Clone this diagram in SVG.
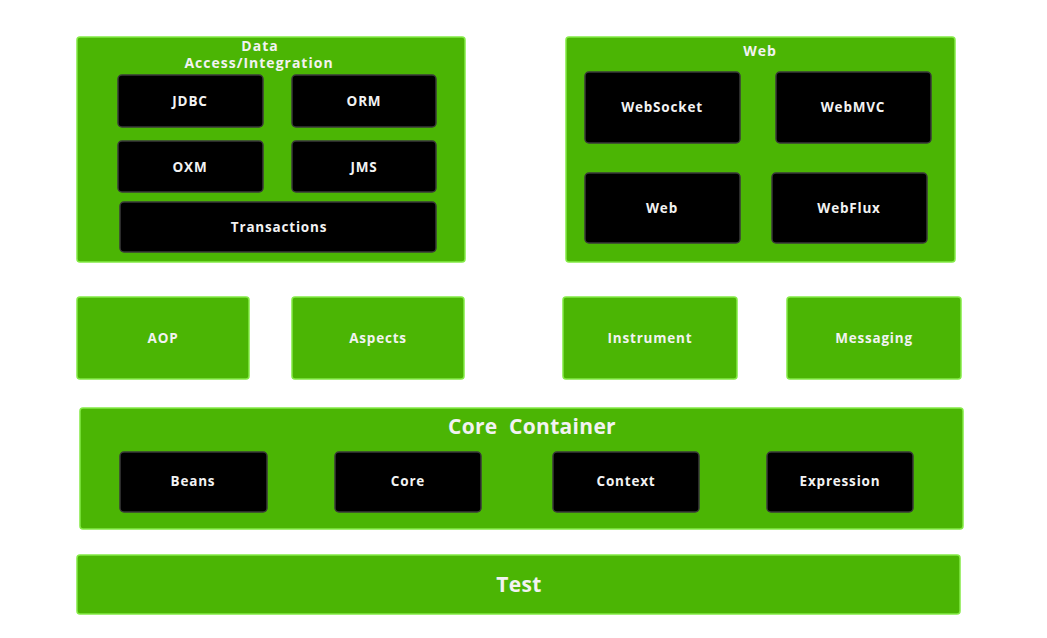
<svg xmlns="http://www.w3.org/2000/svg" width="1047" height="638" viewBox="0 0 1047 638">
<style>
.g{fill:#4bb504;stroke:#84ea45;stroke-width:1.5}
.b{fill:#000;stroke:#3a3a3a;stroke-width:1.5}
text{font-family:"Open Sans","Liberation Sans",sans-serif;font-weight:700;fill:#f2f2f2;text-anchor:middle;dominant-baseline:central}
.s{font-size:13.5px;letter-spacing:0.8px}
.t{font-size:14px;letter-spacing:1px}
.l{font-size:21px;letter-spacing:0.3px}
</style>
<rect width="1047" height="638" fill="#fff"/>
<g id="data">
<rect class="g" x="77" y="37" width="388" height="225" rx="3"/>
<text class="t" x="260" y="45">Data</text>
<text class="t" x="259" y="62">Access/Integration</text>
</g>
<g id="jdbc"><rect class="b" x="118" y="75" width="145" height="52" rx="4"/><text class="s" x="190" y="101">JDBC</text></g>
<g id="orm"><rect class="b" x="292" y="75" width="144" height="52" rx="4"/><text class="s" x="364" y="101">ORM</text></g>
<g id="oxm"><rect class="b" x="118" y="141" width="145" height="51" rx="4"/><text class="s" x="190" y="167">OXM</text></g>
<g id="jms"><rect class="b" x="292" y="141" width="144" height="51" rx="4"/><text class="s" x="364" y="167">JMS</text></g>
<g id="transactions"><rect class="b" x="120" y="202" width="316" height="50" rx="4"/><text class="s" x="279" y="227">Transactions</text></g>
<g id="web-group">
<rect class="g" x="566" y="37" width="389" height="225" rx="3"/>
<text class="t" x="760" y="50">Web</text>
</g>
<g id="websocket"><rect class="b" x="585" y="72" width="155" height="71" rx="4"/><text class="s" x="662" y="107">WebSocket</text></g>
<g id="webmvc"><rect class="b" x="776" y="72" width="155" height="71" rx="4"/><text class="s" x="853" y="107">WebMVC</text></g>
<g id="web"><rect class="b" x="585" y="173" width="155" height="70" rx="4"/><text class="s" x="662" y="208">Web</text></g>
<g id="webflux"><rect class="b" x="772" y="173" width="155" height="70" rx="4"/><text class="s" x="849" y="208">WebFlux</text></g>
<g id="aop"><rect class="g" x="77" y="297" width="172" height="82" rx="3"/><text class="s" x="163" y="338">AOP</text></g>
<g id="aspects"><rect class="g" x="292" y="297" width="172" height="82" rx="3"/><text class="s" x="378" y="338">Aspects</text></g>
<g id="instrument"><rect class="g" x="563" y="297" width="174" height="82" rx="3"/><text class="s" x="650" y="338">Instrument</text></g>
<g id="messaging"><rect class="g" x="787" y="297" width="174" height="82" rx="3"/><text class="s" x="874" y="338">Messaging</text></g>
<g id="core-container">
<rect class="g" x="80" y="408" width="883" height="121" rx="3"/>
<text class="l" x="532" y="426" xml:space="preserve">Core  Container</text>
</g>
<g id="beans"><rect class="b" x="120" y="452" width="147" height="60" rx="4"/><text class="s" x="193" y="481">Beans</text></g>
<g id="core"><rect class="b" x="335" y="452" width="146" height="60" rx="4"/><text class="s" x="408" y="481">Core</text></g>
<g id="context"><rect class="b" x="553" y="452" width="146" height="60" rx="4"/><text class="s" x="626" y="481">Context</text></g>
<g id="expression"><rect class="b" x="767" y="452" width="146" height="60" rx="4"/><text class="s" x="840" y="481">Expression</text></g>
<g id="test"><rect class="g" x="77" y="555" width="883" height="59" rx="3"/><text class="l" x="519" y="584">Test</text></g>
<g id="connectors"></g>
</svg>
